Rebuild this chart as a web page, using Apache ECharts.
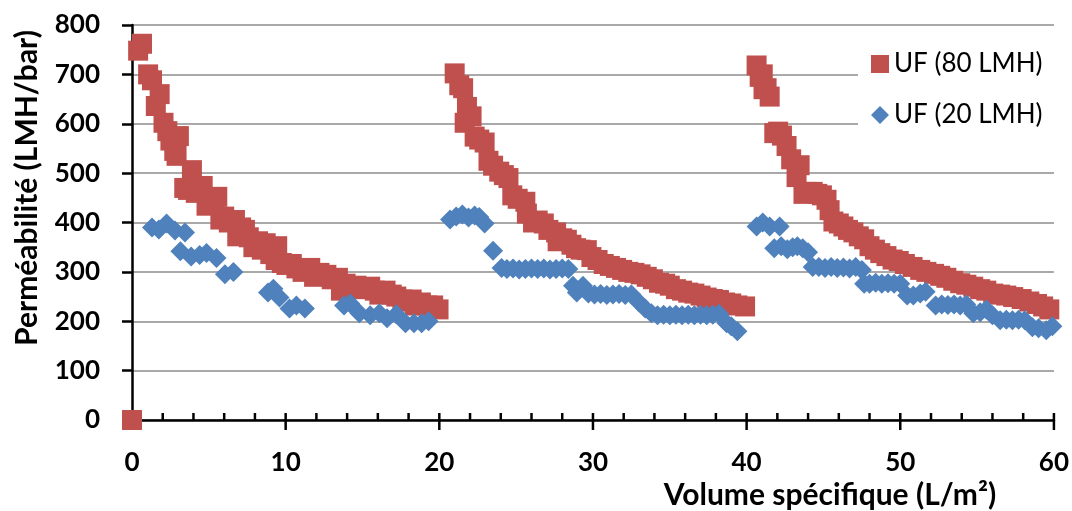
<!DOCTYPE html>
<html>
<head>
<meta charset="utf-8">
<script src="https://cdn.jsdelivr.net/npm/echarts@6/dist/echarts.min.js"></script>
<style>
  html, body { margin: 0; padding: 0; background: #fff; }
  #chart { width: 1072px; height: 511px; }
</style>
</head>
<body>
<div id="chart"></div>
<script>
// Permeability (LMH/bar) vs specific volume (L/m²), three filtration cycles each
const seriesNames = ['UF (80 LMH)', 'UF (20 LMH)'];
const xAxisTitle = 'Volume spécifique (L/m²)';
const yAxisTitle = 'Perméabilité (LMH/bar)';
const xRange = [0, 60, 10];   // min, max, major step
const xMinorStep = 2;
const yRange = [0, 800, 100];

// UF at 80 LMH : [volume, permeability]
const uf80Points = [
  [0, 0],
  [0.4, 748], [0.65, 762], [1.05, 700], [1.3, 688], [1.55, 636], [1.8, 660], [2.05, 602],
  [2.3, 585], [2.5, 566], [2.75, 545], [2.9, 535], [3.05, 575], [3.4, 470], [3.65, 466],
  [3.9, 506], [4.15, 460], [4.4, 470], [4.6, 474], [4.85, 434], [5.1, 445], [5.35, 440],
  [5.55, 452], [5.75, 406], [6.0, 412], [6.3, 400], [6.7, 405], [6.85, 372], [7.1, 390],
  [7.35, 385], [7.6, 370], [7.9, 350], [8.2, 362], [8.45, 345], [8.7, 358], [9.0, 336],
  [9.35, 324], [9.45, 352], [9.75, 318], [10.05, 314], [10.4, 316], [10.7, 307], [11.1, 300],
  [11.6, 308], [11.85, 290], [12.2, 298], [12.65, 294], [13.0, 285], [13.4, 288], [13.6, 262],
  [13.9, 276], [14.3, 268], [14.6, 272], [15.0, 265], [15.5, 270], [15.8, 262], [16.1, 254],
  [16.5, 262], [16.9, 254], [17.2, 250], [17.6, 244], [17.9, 240], [18.2, 244], [18.4, 232],
  [18.8, 238], [19.2, 232], [19.6, 232], [19.95, 224],
  [21.0, 702], [21.3, 678], [21.55, 672], [21.8, 634], [21.65, 602], [22.1, 615], [22.3, 574],
  [22.6, 568], [22.95, 562], [23.2, 525], [23.5, 515], [23.9, 503], [24.2, 496], [24.5, 490],
  [24.75, 455], [25.1, 448], [25.6, 442], [25.7, 418], [26.1, 400], [26.4, 404], [26.8, 398],
  [27.1, 385], [27.6, 380], [27.7, 362], [28.0, 368], [28.3, 365], [28.6, 355], [28.9, 348],
  [29.2, 345], [29.6, 344], [29.9, 330], [30.3, 324], [30.7, 316], [31.1, 312], [31.5, 308],
  [31.9, 304], [32.3, 300], [32.7, 298], [33.1, 295], [33.5, 290], [33.9, 285], [34.3, 278],
  [34.7, 276], [35.0, 272], [35.4, 265], [35.8, 262], [36.2, 258], [36.6, 256], [37.0, 252],
  [37.4, 248], [37.8, 245], [38.2, 243], [38.6, 238], [39.0, 236], [39.4, 232], [39.9, 230],
  [40.65, 718], [40.85, 695], [41.05, 700], [41.1, 670], [41.3, 672], [41.5, 655], [41.8, 581],
  [42.05, 584], [42.3, 576], [42.6, 555], [42.9, 528], [43.25, 492], [43.45, 516], [43.7, 458],
  [43.95, 462], [44.3, 462], [44.6, 458], [44.9, 455], [45.2, 446], [45.4, 425], [45.65, 402],
  [46.0, 398], [46.3, 392], [46.6, 385], [46.95, 380], [47.3, 372], [47.65, 366], [48.0, 352],
  [48.35, 345], [48.7, 338], [49.1, 332], [49.5, 325], [49.9, 322], [50.3, 316], [50.8, 310],
  [51.3, 304], [51.7, 300], [52.2, 296], [52.6, 292], [53.0, 288], [53.45, 282], [53.9, 277],
  [54.3, 274], [54.75, 270], [55.2, 265], [55.6, 262], [56.05, 256], [56.5, 254], [56.9, 252],
  [57.35, 249], [57.9, 245], [58.4, 240], [58.9, 235], [59.3, 230], [59.7, 224]
];

// UF at 20 LMH : [volume, permeability]
const uf20Points = [
  [1.3, 390], [1.75, 386], [2.25, 398], [2.8, 384], [3.15, 342], [3.45, 380], [3.85, 331],
  [4.4, 334], [4.85, 338], [5.5, 328], [6.05, 295], [6.6, 300], [8.85, 258], [9.2, 266],
  [9.6, 248], [10.25, 226], [10.7, 232], [11.25, 226], [13.8, 232], [14.2, 236], [14.8, 216],
  [15.5, 212], [16.1, 216], [16.6, 206], [17.2, 214], [17.8, 196], [18.35, 196], [18.85, 196],
  [19.3, 200],
  [20.7, 406], [21.1, 412], [21.5, 416], [21.9, 410], [22.3, 414], [22.6, 411], [22.95, 398],
  [23.5, 343], [24.05, 308], [24.4, 306], [24.8, 307], [25.2, 305], [25.6, 306], [26.0, 307],
  [26.4, 306], [26.8, 307], [27.2, 305], [27.6, 306], [28.0, 307], [28.4, 306], [28.7, 272],
  [28.95, 258], [29.35, 272], [29.7, 256], [30.1, 254], [30.5, 255], [30.9, 253], [31.3, 254],
  [31.7, 255], [32.1, 253], [32.5, 254], [33.0, 238], [33.4, 226], [33.8, 216], [34.2, 212],
  [34.6, 213], [35.0, 212], [35.4, 213], [35.8, 212], [36.2, 213], [36.6, 212], [37.0, 213],
  [37.4, 212], [37.8, 213], [38.2, 215], [38.7, 196], [39.0, 190], [39.4, 180],
  [40.65, 392], [41.05, 400], [41.5, 392], [42.15, 392], [41.8, 348], [42.25, 352], [42.65, 346],
  [43.0, 350], [43.3, 352], [43.65, 348], [44.0, 340], [44.3, 310], [44.7, 310], [45.1, 308],
  [45.5, 310], [45.9, 308], [46.3, 309], [46.7, 307], [47.1, 310], [47.5, 304], [47.65, 276],
  [48.0, 276], [48.4, 278], [48.8, 276], [49.2, 277], [49.6, 276], [50.0, 276], [50.45, 252],
  [50.85, 252], [51.3, 256], [51.65, 260], [52.3, 232], [52.7, 234], [53.1, 233], [53.5, 234],
  [53.9, 232], [54.3, 234], [54.75, 216], [55.2, 218], [55.6, 224], [56.0, 212], [56.5, 202],
  [56.9, 203], [57.3, 202], [57.7, 203], [58.1, 202], [58.6, 188], [59.0, 186], [59.5, 182],
  [59.9, 190]
];

const FONT = 'Lato';
const RED = '#C0504D';
const BLUE = '#4F81BD';
const TICK_UP = 7;      // ticks rise this far into the plot (minor and major)
const TICK_DOWN = 10;   // major ticks also drop below the axis

const chart = echarts.init(document.getElementById('chart'), null, { renderer: 'canvas' });

chart.setOption({
  backgroundColor: '#ffffff',
  animation: false,
  textStyle: { fontFamily: FONT },
  grid: { left: 132, right: 18, top: 25, bottom: 91, containLabel: false },
  legend: {
    orient: 'vertical',
    left: 858,
    top: 39,
    padding: [12, 12, 14, 13],
    backgroundColor: '#ffffff',
    itemWidth: 18,
    itemHeight: 18,
    itemGap: 25,
    data: seriesNames,
    textStyle: { fontFamily: FONT, fontSize: 26, color: '#000000' }
  },
  xAxis: {
    type: 'value',
    min: xRange[0], max: xRange[1], interval: xRange[2],
    position: 'bottom',
    axisLine: { show: true, onZero: false, lineStyle: { color: '#000', width: 2.5 } },
    axisTick: { show: false },
    axisLabel: { margin: 30, fontFamily: FONT, fontSize: 26, fontWeight: 'bold', color: '#000' },
    splitLine: { show: false }
  },
  yAxis: {
    type: 'value',
    min: yRange[0], max: yRange[1], interval: yRange[2],
    axisLine: { show: true, onZero: false, lineStyle: { color: '#000', width: 2.5 } },
    axisTick: { show: true, inside: false, length: 10, lineStyle: { color: '#000', width: 2.5 } },
    axisLabel: { margin: 32, fontFamily: FONT, fontSize: 26, fontWeight: 'bold', color: '#000' },
    splitLine: { show: true, lineStyle: { color: '#8c8c8c', width: 1.5 } }
  },
  series: [
    {
      name: seriesNames[0],
      type: 'scatter',
      z: 10,
      clip: false,
      symbol: 'rect',
      symbolSize: 20,
      itemStyle: { color: RED, opacity: 1 },
      data: uf80Points
    },
    {
      name: seriesNames[1],
      type: 'scatter',
      z: 10,
      clip: false,
      symbol: 'diamond',
      symbolSize: 20,
      itemStyle: { color: BLUE, opacity: 1 },
      data: uf20Points
    }
  ]
});

// Axis titles, plus volume-axis ticks placed through the axis scale
const graphics = [
  {
    id: 'xTitle',
    type: 'text',
    x: 830, y: 495,
    style: {
      text: xAxisTitle,
      font: 'bold 30px ' + FONT,
      fill: '#000',
      textAlign: 'center',
      textVerticalAlign: 'middle'
    }
  },
  {
    id: 'yTitle',
    type: 'text',
    x: 27, y: 188,
    rotation: Math.PI / 2,
    style: {
      text: yAxisTitle,
      font: 'bold 30px ' + FONT,
      fill: '#000',
      textAlign: 'center',
      textVerticalAlign: 'middle'
    }
  }
];
const axisY = chart.convertToPixel({ yAxisIndex: 0 }, yRange[0]);
const stepsPerMajor = Math.round(xRange[2] / xMinorStep);
const tickCount = Math.round((xRange[1] - xRange[0]) / xMinorStep);
for (let i = 0; i <= tickCount; i++) {
  const v = xRange[0] + i * xMinorStep;
  const px = chart.convertToPixel({ xAxisIndex: 0 }, v);
  const isMajor = i % stepsPerMajor === 0;
  graphics.push({
    id: 'xTick' + i,
    type: 'line',
    z: 5,
    silent: true,
    shape: { x1: px, y1: axisY - TICK_UP, x2: px, y2: axisY + (isMajor ? TICK_DOWN : 0) },
    style: { stroke: '#000', lineWidth: 2.5 }
  });
}
chart.setOption({ graphic: graphics });
</script>
</body>
</html>
